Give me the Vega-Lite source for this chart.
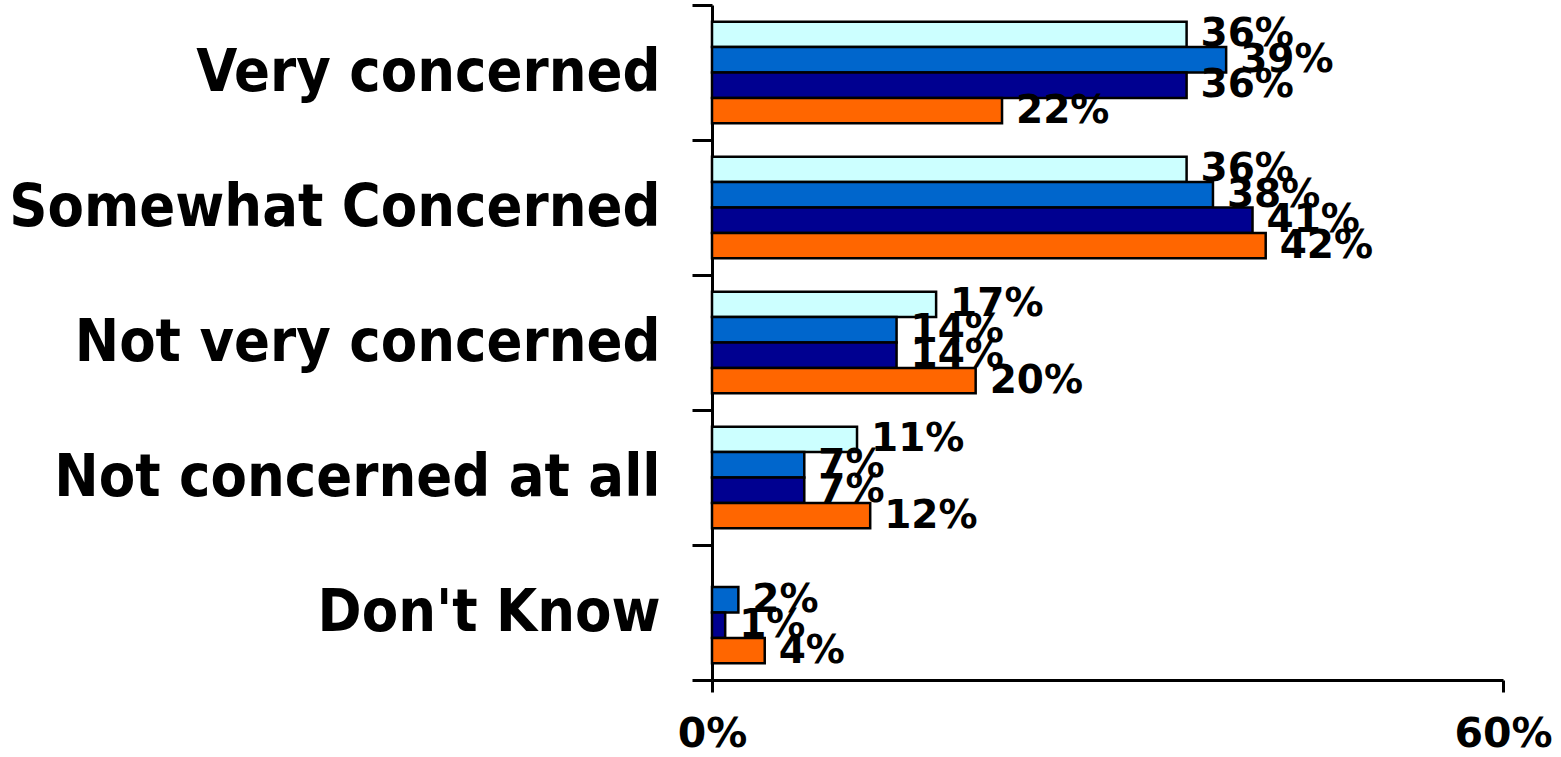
{
  "$schema": "https://vega.github.io/schema/vega-lite/v6.json",
  "width": 791,
  "height": 675,
  "autosize": {"type": "none"},
  "padding": {"left": 712, "top": 5, "right": 58, "bottom": 77},
  "background": "white",
  "config": {"view": {"stroke": null}},
  "data": {
    "values": [
      {"response": "Very concerned", "series": "Series 1", "value": 0.36},
      {"response": "Very concerned", "series": "Series 2", "value": 0.39},
      {"response": "Very concerned", "series": "Series 3", "value": 0.36},
      {"response": "Very concerned", "series": "Series 4", "value": 0.22},
      {"response": "Somewhat Concerned", "series": "Series 1", "value": 0.36},
      {"response": "Somewhat Concerned", "series": "Series 2", "value": 0.38},
      {"response": "Somewhat Concerned", "series": "Series 3", "value": 0.41},
      {"response": "Somewhat Concerned", "series": "Series 4", "value": 0.42},
      {"response": "Not very concerned", "series": "Series 1", "value": 0.17},
      {"response": "Not very concerned", "series": "Series 2", "value": 0.14},
      {"response": "Not very concerned", "series": "Series 3", "value": 0.14},
      {"response": "Not very concerned", "series": "Series 4", "value": 0.20},
      {"response": "Not concerned at all", "series": "Series 1", "value": 0.11},
      {"response": "Not concerned at all", "series": "Series 2", "value": 0.07},
      {"response": "Not concerned at all", "series": "Series 3", "value": 0.07},
      {"response": "Not concerned at all", "series": "Series 4", "value": 0.12},
      {"response": "Don't Know", "series": "Series 2", "value": 0.02},
      {"response": "Don't Know", "series": "Series 3", "value": 0.01},
      {"response": "Don't Know", "series": "Series 4", "value": 0.04}
    ]
  },
  "encoding": {
    "y": {
      "field": "response",
      "type": "nominal",
      "sort": ["Very concerned", "Somewhat Concerned", "Not very concerned", "Not concerned at all", "Don't Know"],
      "scale": {"paddingInner": 0, "paddingOuter": 0},
      "axis": {
        "title": null,
        "tickBand": "extent",
        "tickSize": 20,
        "tickWidth": 3,
        "tickColor": "black",
        "domainColor": "black",
        "domainWidth": 3,
        "labelFont": "DejaVu Sans Condensed, DejaVu Sans",
        "labelFontWeight": "bold",
        "labelFontSize": 59,
        "labelColor": "black",
        "labelPadding": 32,
        "labelLimit": 0
      }
    },
    "yOffset": {
      "field": "series",
      "type": "nominal",
      "sort": ["Series 1", "Series 2", "Series 3", "Series 4"],
      "scale": {"domain": ["Series 1", "Series 2", "Series 3", "Series 4"], "paddingInner": 0, "paddingOuter": 0.656}
    },
    "x": {
      "field": "value",
      "type": "quantitative",
      "scale": {"domain": [0, 0.6], "nice": false, "zero": true},
      "axis": {
        "title": null,
        "values": [0, 0.6],
        "format": ".0%",
        "grid": false,
        "tickSize": 12,
        "tickWidth": 3,
        "tickColor": "black",
        "domainColor": "black",
        "domainWidth": 3,
        "labelFont": "DejaVu Sans",
        "labelFontWeight": "bold",
        "labelFontSize": 41,
        "labelColor": "black",
        "labelPadding": 22,
        "labelFlush": false
      }
    }
  },
  "layer": [
    {
      "mark": {"type": "bar", "stroke": "black", "strokeWidth": 2.5},
      "encoding": {
        "color": {
          "field": "series",
          "type": "nominal",
          "scale": {"domain": ["Series 1", "Series 2", "Series 3", "Series 4"], "range": ["#CCFFFF", "#0066CC", "#000090", "#FF6600"]},
          "legend": null
        }
      }
    },
    {
      "mark": {"type": "text", "align": "left", "baseline": "middle", "dx": 14, "font": "DejaVu Sans", "fontWeight": "bold", "fontSize": 39, "color": "black"},
      "encoding": {
        "text": {"field": "value", "type": "quantitative", "format": ".0%"}
      }
    }
  ]
}
